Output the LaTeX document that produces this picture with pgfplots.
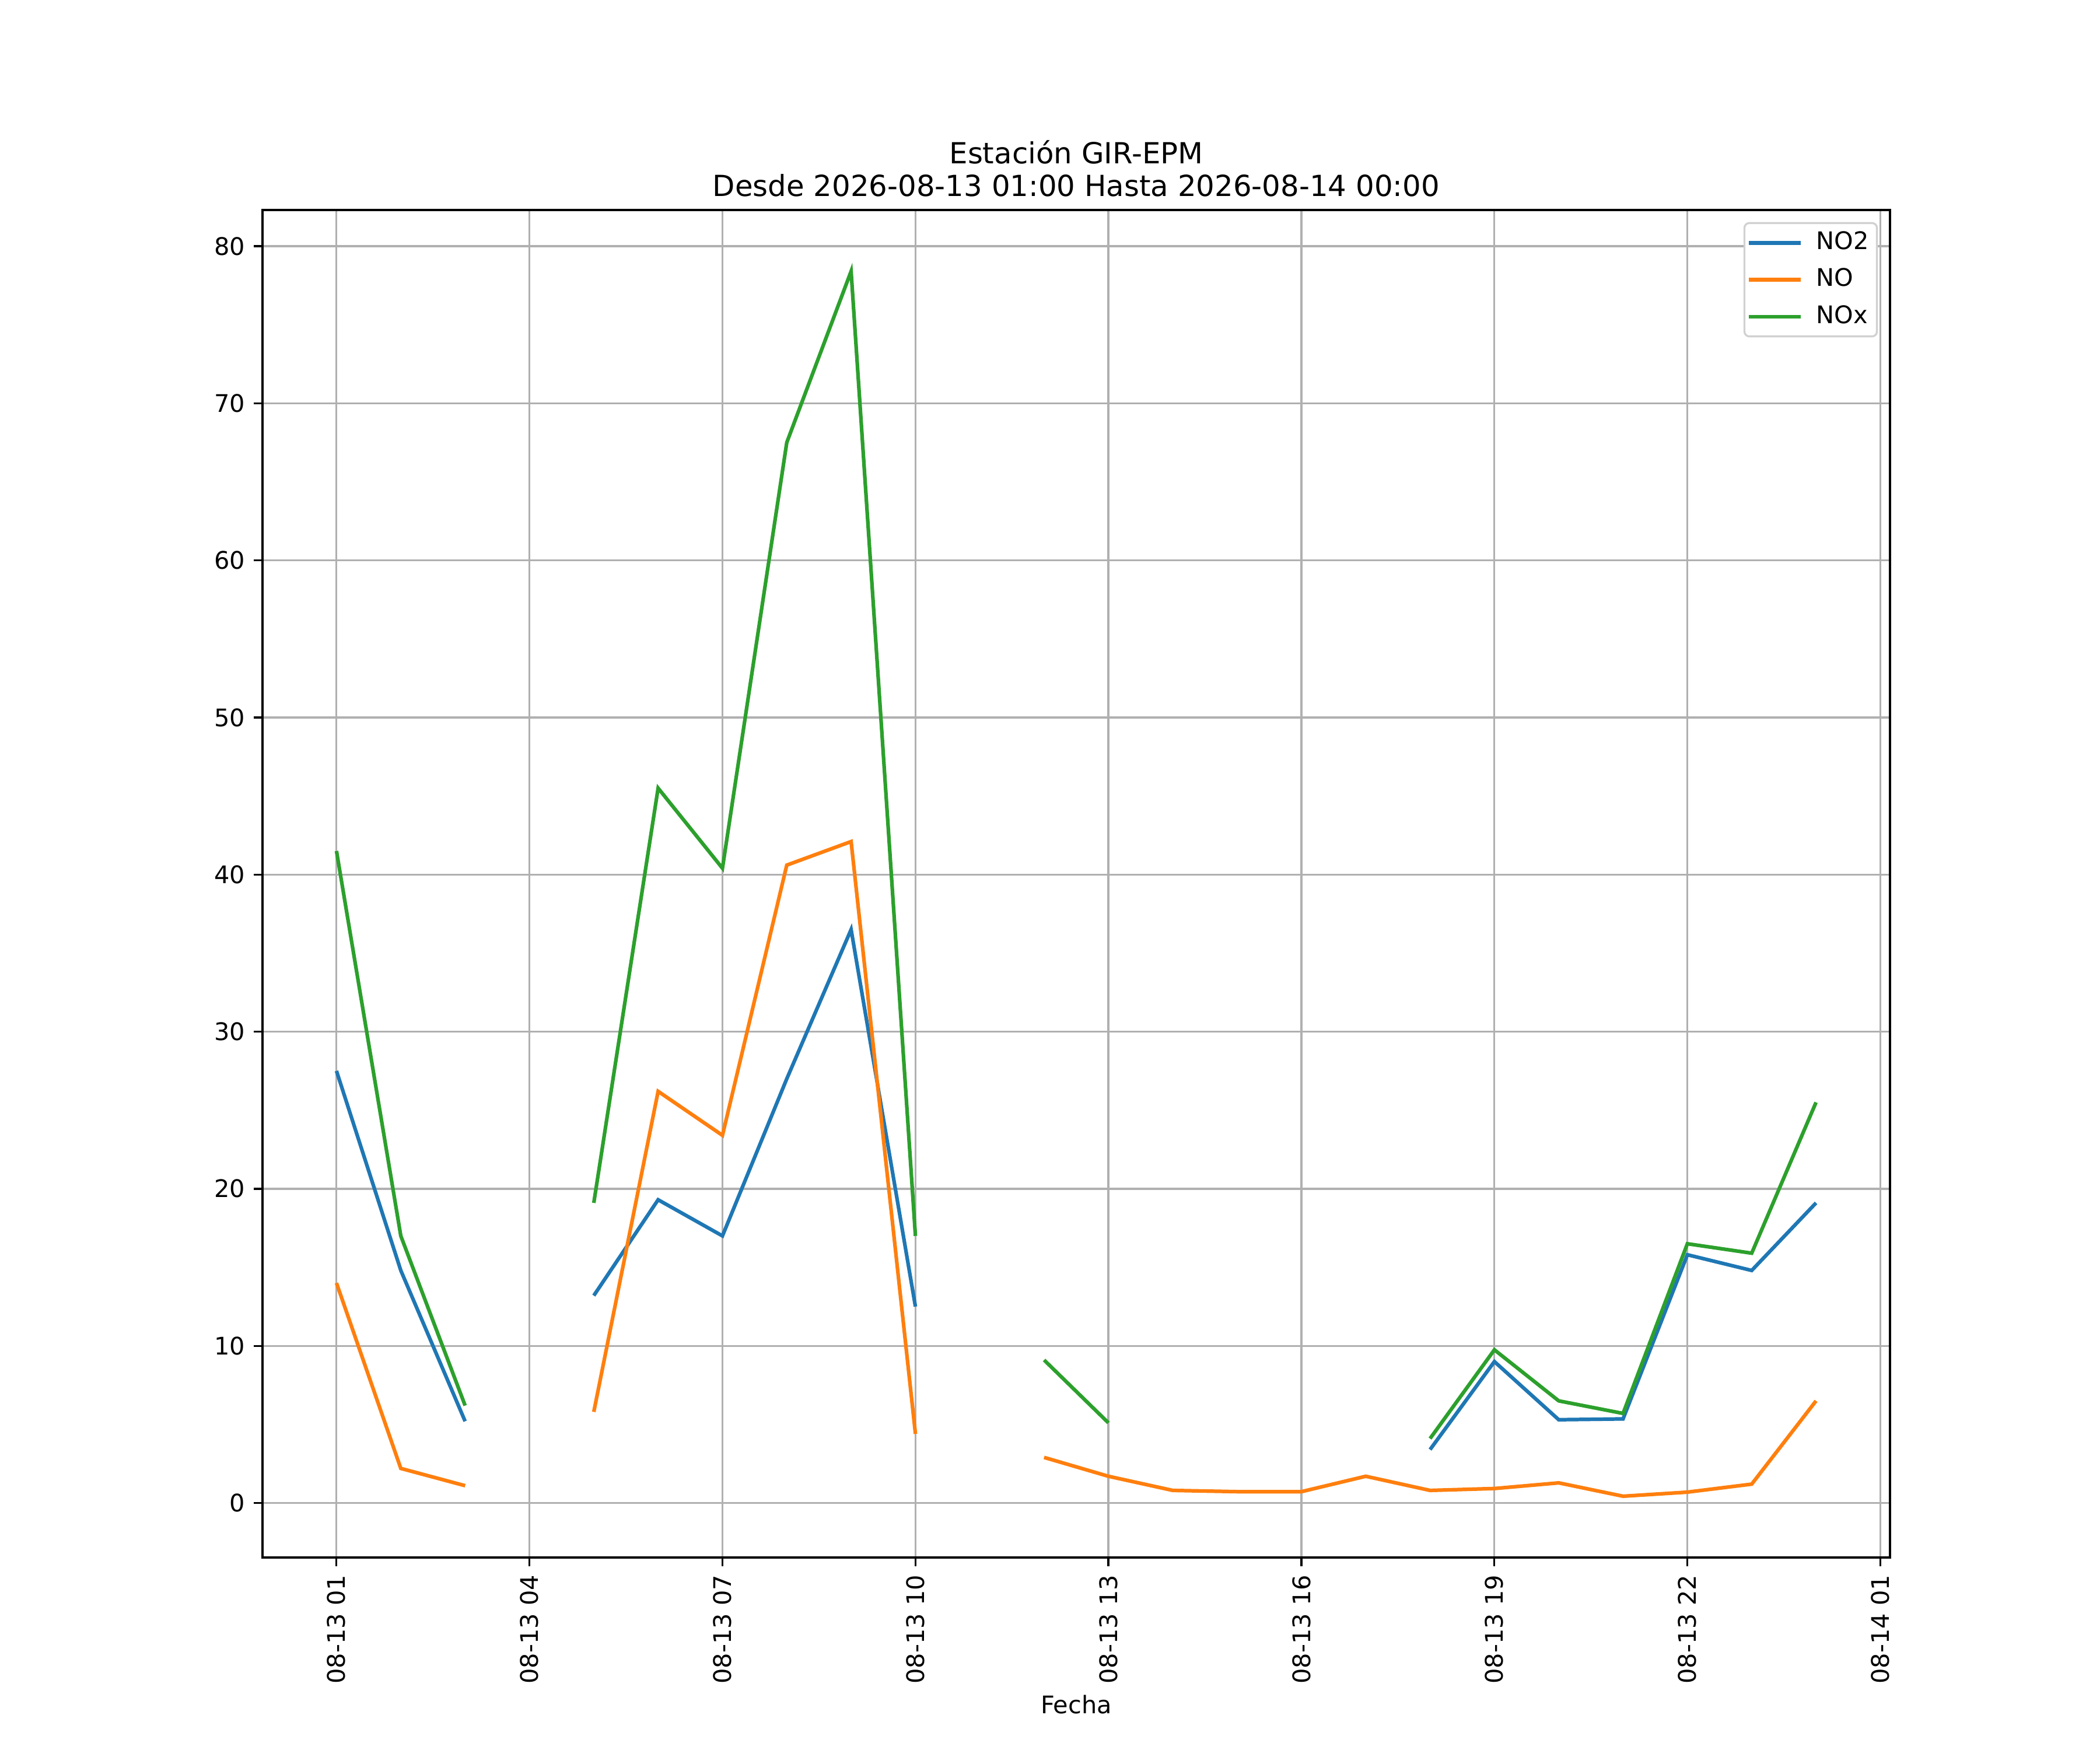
\documentclass[border=0pt]{standalone}
\usepackage{fontspec}
\setmainfont{DejaVu Sans}
\usepackage{pgfplots}
\pgfplotsset{compat=1.18}
\usepackage{pgfplotstable}
\definecolor{tabblue}{HTML}{1F77B4}
\definecolor{taborange}{HTML}{FF7F0E}
\definecolor{tabgreen}{HTML}{2CA02C}
\definecolor{gridgray}{HTML}{B0B0B0}
\pgfplotstableread{
h no2 no nox
1 27.5 14.0 41.5
2 14.8 2.2 17.0
3 5.2 1.1 6.2
4 nan nan nan
5 13.2 5.8 19.1
6 19.3 26.2 45.5
7 17.0 23.4 40.4
8 27.0 40.6 67.5
9 36.5 42.1 78.4
10 12.5 4.4 17.0
11 nan nan nan
12 nan 2.9 9.1
13 nan 1.7 5.1
14 nan 0.8 nan
15 nan 0.72 nan
16 nan 0.72 nan
17 nan 1.7 nan
18 3.4 0.8 4.1
19 9.0 0.92 9.75
20 5.3 1.28 6.5
21 5.35 0.43 5.7
22 15.8 0.69 16.5
23 14.8 1.2 15.9
24 19.1 6.5 25.5
}\data
\begin{document}
\begin{tikzpicture}
\path[use as bounding box] (0,0) rectangle (12in,10in);
\begin{axis}[
  at={(1.5in,1.1in)}, anchor=south west,
  scale only axis, width=9.3in, height=7.7in,
  xmin=-0.15, xmax=25.15, ymin=-3.47, ymax=82.3,
  unbounded coords=jump,
  font=\fontsize{10}{12}\selectfont,
  /pgf/number format/assume math mode=true,
  axis line style={line width=0.8pt},
  tick style={line width=0.8pt, black},
  tick align=outside, major tick length=3.5pt,
  xtick pos=bottom, ytick pos=left,
  grid=major, grid style={gridgray, line width=0.8pt},
  xtick={1,4,7,10,13,16,19,22,25},
  xticklabels={08-13 01,08-13 04,08-13 07,08-13 10,08-13 13,08-13 16,08-13 19,08-13 22,08-14 01},
  xticklabel style={rotate=90, anchor=east, inner sep=0pt, xshift=-3.5pt},
  ytick={0,10,...,80},
  yticklabel style={inner sep=0pt, xshift=-3.5pt},
  xlabel={Fecha},
  xlabel style={inner sep=0pt, yshift=-4.5pt},
  title={Estación GIR-EPM\\Desde 2026-08-13 01:00 Hasta 2026-08-14 00:00},
  title style={at={(0.5,1)}, anchor=south, yshift=-0.7pt, inner sep=0pt, align=center, font=\fontsize{12}{13.5}\selectfont},
  legend cell align=left,
  legend image code/.code={\draw[#1] (0pt,0pt) -- (21.5pt,0pt);},
  legend style={at={(1,1)}, anchor=north east, xshift=-5pt, yshift=-5pt,
    draw=black!18, line width=0.8pt, rounded corners=2pt, fill=white,
    inner xsep=1pt, inner ysep=1.45pt, row sep=1.7pt, column sep=3.2pt,
    nodes={inner xsep=2.4pt, inner ysep=2pt, text height=7.5pt, text depth=2pt},
    font=\fontsize{10}{12}\selectfont},
]
\addplot[tabblue, line width=1.5pt] table[x=h, y=no2] {\data};
\addlegendentry{NO2}
\addplot[taborange, line width=1.5pt] table[x=h, y=no] {\data};
\addlegendentry{NO}
\addplot[tabgreen, line width=1.5pt] table[x=h, y=nox] {\data};
\addlegendentry{NOx}
\end{axis}
\end{tikzpicture}
\end{document}
